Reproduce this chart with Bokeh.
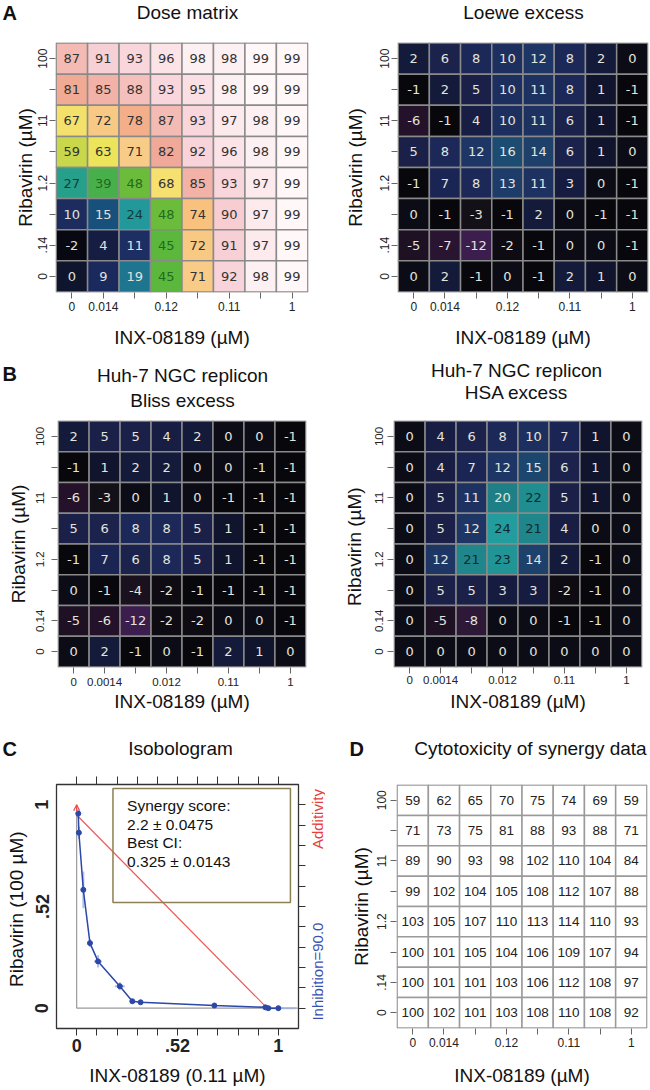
import numpy as np
from bokeh.plotting import figure
from bokeh.models import (ColumnDataSource, Range1d, FixedTicker, LinearAxis, Label,
                          BoxAnnotation, Arrow, OpenHead)
from bokeh.layouts import column, row
from bokeh.core.properties import value
from bokeh.embed import file_html
from bokeh.resources import INLINE

FONT = "Liberation Sans"

# ---------------- data ----------------
cols_A = ["0", "0.014", "", "0.12", "", "0.11", "", "1"]
rows_A = ["0", ".14", "", "1.2", "", "11", "", "100"]          # bottom -> top
cols_B = ["0", "0.0014", "", "0.012", "", "0.11", "", "1"]
rows_B = ["0", "0.14", "", "1.2", "", "11", "", "100"]

# matrices: rows listed from top (100 µM) to bottom (0 µM)
dose_matrix = [
    [87, 91, 93, 96, 98, 98, 99, 99],
    [81, 85, 88, 93, 95, 98, 99, 99],
    [67, 72, 78, 87, 93, 97, 98, 99],
    [59, 63, 71, 82, 92, 96, 98, 99],
    [27, 39, 48, 68, 85, 93, 97, 99],
    [10, 15, 24, 48, 74, 90, 97, 99],
    [-2, 4, 11, 45, 72, 91, 97, 99],
    [0, 9, 19, 45, 71, 92, 98, 99],
]
loewe_excess = [
    [2, 6, 8, 10, 12, 8, 2, 0],
    [-1, 2, 5, 10, 11, 8, 1, -1],
    [-6, -1, 4, 10, 11, 6, 1, -1],
    [5, 8, 12, 16, 14, 6, 1, 0],
    [-1, 7, 8, 13, 11, 3, 0, -1],
    [0, -1, -3, -1, 2, 0, -1, -1],
    [-5, -7, -12, -2, -1, 0, 0, -1],
    [0, 2, -1, 0, -1, 2, 1, 0],
]
bliss_excess = [
    [2, 5, 5, 4, 2, 0, 0, -1],
    [-1, 1, 2, 2, 0, 0, -1, -1],
    [-6, -3, 0, 1, 0, -1, -1, -1],
    [5, 6, 8, 8, 5, 1, -1, -1],
    [-1, 7, 6, 8, 5, 1, -1, -1],
    [0, -1, -4, -2, -1, -1, -1, -1],
    [-5, -6, -12, -2, -2, 0, 0, -1],
    [0, 2, -1, 0, -1, 2, 1, 0],
]
hsa_excess = [
    [0, 4, 6, 8, 10, 7, 1, 0],
    [0, 4, 7, 12, 15, 6, 1, 0],
    [0, 5, 11, 20, 22, 5, 1, 0],
    [0, 5, 12, 24, 21, 4, 0, 0],
    [0, 12, 21, 23, 14, 2, -1, 0],
    [0, 5, 5, 3, 3, -2, -1, 0],
    [0, -5, -8, 0, 0, -1, -1, 0],
    [0, 0, 0, 0, 0, 0, 0, 0],
]
cytotox = [
    [59, 62, 65, 70, 75, 74, 69, 59],
    [71, 73, 75, 81, 88, 93, 88, 71],
    [89, 90, 93, 98, 102, 110, 104, 84],
    [99, 102, 104, 105, 108, 112, 107, 88],
    [103, 105, 107, 110, 113, 114, 110, 93],
    [100, 101, 105, 104, 106, 109, 107, 94],
    [100, 101, 101, 103, 106, 112, 108, 97],
    [100, 102, 101, 103, 108, 110, 108, 92],
]

# isobologram (fractions of 0.11 µM INX-08189 / 100 µM ribavirin)
iso_x = [0.008, 0.011, 0.033, 0.066, 0.106, 0.214, 0.276, 0.317, 0.683, 0.936, 0.950, 1.000]
iso_y = [0.957, 0.863, 0.582, 0.320, 0.230, 0.108, 0.034, 0.029, 0.013, 0.004, 0.000, 0.000]
iso_xerr = [0.0, 0.0, 0.010, 0.010, 0.020, 0.025, 0.010, 0.0, 0.0, 0.030, 0.0, 0.085]
iso_yerr = [0.020, 0.030, 0.090, 0.020, 0.030, 0.020, 0.0, 0.0, 0.0, 0.0, 0.0, 0.0]
add_x = [0.0, 0.945]
add_y = [0.95, 0.0]
iso_ticks = [0.0, 0.1, 0.2, 0.3, 0.4, 0.5, 0.6, 0.7, 0.8, 0.9, 1.0]
iso_tick_text = {0.0: "0", 0.5: ".52", 1.0: "1"}
box_lines = ["Synergy score:", "2.2 \u00b1 0.0475", "Best CI:", "0.325 \u00b1 0.0143"]

# ---------------- colour maps ----------------
def hex2rgb(h):
    return [int(h[i:i + 2], 16) for i in (1, 3, 5)]

def make_cmap(anchors):
    vals = np.array([a for a, _ in anchors], dtype=float)
    rgb = np.array([hex2rgb(c) for _, c in anchors], dtype=float)
    def cmap(v):
        return "#%02x%02x%02x" % tuple(int(round(np.interp(v, vals, rgb[:, k]))) for k in range(3))
    return cmap

dose_cmap = make_cmap([
    (-2, "#080812"), (0, "#10152e"), (9, "#1b2a5c"), (11, "#1d2e62"), (15, "#17507a"),
    (19, "#1d7590"), (24, "#22989a"), (27, "#26a08a"), (39, "#48b04a"), (45, "#5cb83c"),
    (48, "#6cbc3c"), (59, "#c8d84a"), (63, "#ece45a"), (68, "#f5e070"), (71, "#f8cc86"),
    (74, "#f8c27e"), (78, "#f4ae8a"), (82, "#f0a898"), (85, "#f2b2a8"), (88, "#f5c0bc"),
    (90, "#f7cdd2"), (93, "#f8d6dc"), (96, "#fbe3e8"), (98, "#fdf0f2"), (99, "#fff7f8"),
])
excess_cmap = make_cmap([
    (-12, "#3c1e4e"), (-8, "#2e1838"), (-6, "#24122a"), (-3, "#141018"), (-1, "#08080c"),
    (0, "#0b0c16"), (1, "#10142c"), (2, "#141a3a"), (5, "#1a2048"), (8, "#1c2858"),
    (12, "#1e3666"), (16, "#1d4c72"), (20, "#1e8086"), (24, "#229c9c"),
])

def dose_text(v):
    if v < 20:
        return "#e2e2dc"
    if v < 30:
        return "#123c3c"
    if v <= 50:
        return "#1f6b1f"
    return "#333333"

def excess_text(v):
    return "#0f2a2e" if v >= 21 else "#e4e4dc"

# ---------------- helpers ----------------
def strip(width, height, texts):
    """A text band: its frame fills the canvas and its ranges are pixel units."""
    p = figure(width=width, height=height, x_range=Range1d(0, width),
               y_range=Range1d(height, 0), min_border=0, x_axis_location=None,
               y_axis_location=None, output_backend="svg", toolbar_location=None)
    p.grid.visible = False
    p.outline_line_color = None
    for x, y, t, size, bold, align in texts:
        p.add_layout(Label(x=x, y=y, text=t, text_font=FONT, text_font_size=size,
                           text_font_style="bold" if bold else "normal", text_align=align,
                           text_baseline="middle", text_color="#111111"))
    return p

def style_axis(ax, label, tick_font, stand, lab_stand, tick_out=6, tick_bold=False):
    ax.axis_label = label
    ax.axis_label_text_font = FONT
    ax.axis_label_text_font_size = "19px"
    ax.axis_label_text_font_style = "normal"
    ax.axis_label_text_color = "#111111"
    ax.axis_label_standoff = lab_stand
    ax.major_label_text_font = FONT
    ax.major_label_text_font_size = tick_font
    ax.major_label_text_font_style = "bold" if tick_bold else "normal"
    ax.major_label_text_color = "#222222"
    ax.major_label_standoff = stand
    ax.major_tick_out = tick_out
    ax.major_tick_in = 0
    ax.major_tick_line_color = "#666666"
    ax.minor_tick_line_color = None
    ax.axis_line_color = None

def heatmap(matrix, xlabels, ylabels, width, height, ml, mr, mt, mb, fill_fn, text_fn,
            line_color, num_font, num_size, tick_font, xs_, xls_, ys_, yls_, ylab):
    p = figure(width=width, height=height, x_range=Range1d(-0.52, 7.52),
               y_range=Range1d(-0.52, 7.52), min_border_left=ml, min_border_right=mr,
               min_border_top=mt, min_border_bottom=mb, output_backend="svg",
               toolbar_location=None)
    xs, ys, fills, tcols, txt = [], [], [], [], []
    n = len(matrix)
    for r, rv in enumerate(matrix):
        for c, v in enumerate(rv):
            xs.append(c)
            ys.append(n - 1 - r)
            fills.append(fill_fn(v))
            tcols.append(text_fn(v))
            txt.append(str(v))
    src = ColumnDataSource(dict(x=xs, y=ys, fill=fills, tcol=tcols, txt=txt))
    p.rect(x="x", y="y", width=1, height=1, fill_color="fill", line_color=line_color,
           line_width=1.5, source=src)
    p.text(x="x", y="y", text="txt", text_color="tcol", text_align="center",
           text_baseline="middle", text_font=value(num_font),
           text_font_size=value(num_size), source=src)
    p.xgrid.visible = False
    p.ygrid.visible = False
    p.outline_line_color = None
    p.xaxis.ticker = FixedTicker(ticks=list(range(len(xlabels))))
    p.xaxis.major_label_overrides = {i: s for i, s in enumerate(xlabels)}
    p.yaxis.ticker = FixedTicker(ticks=list(range(len(ylabels))))
    p.yaxis.major_label_overrides = {i: s for i, s in enumerate(ylabels)}
    p.yaxis.major_label_orientation = "vertical"
    style_axis(p.xaxis[0], "INX-08189 (\u00b5M)", tick_font, xs_, xls_)
    style_axis(p.yaxis[0], ylab, tick_font, ys_, yls_)
    return p

# ---------------- Row A ----------------
stripA = strip(650, 30, [
    (2, 12, "A", "20px", True, "left"),
    (187, 12, "Dose matrix", "19px", False, "center"),
    (523, 12, "Loewe excess", "19px", False, "center"),
])
pA1 = heatmap(dose_matrix, cols_A, rows_A, 325, 320, 55, 17, 12, 58, dose_cmap, dose_text,
              "#8a8a8a", "DejaVu Sans", "13px", "12px", 3, 13, 2, 0, "Ribavirin (\u00b5M)")
pA2 = heatmap(loewe_excess, cols_A, rows_A, 325, 320, 72, 2, 12, 58, excess_cmap, excess_text,
              "#8a8a8a", "DejaVu Sans", "13px", "12px", 3, 13, 2, 12, "Ribavirin (\u00b5M)")

# ---------------- Row B ----------------
stripB = strip(650, 64, [
    (2, 23, "B", "20px", True, "left"),
    (182, 25, "Huh-7 NGC replicon", "19px", False, "center"),
    (182, 50, "Bliss excess", "19px", False, "center"),
    (516, 20, "Huh-7 NGC replicon", "19px", False, "center"),
    (516, 42, "HSA excess", "19px", False, "center"),
])
pB1 = heatmap(bliss_excess, cols_B, rows_B, 325, 300, 57, 19, 4, 46, excess_cmap, excess_text,
              "#8a8a8a", "DejaVu Sans", "13px", "11.5px", 4, 2, 7, 5, "Ribavirin (\u00b5M)")
pB2 = heatmap(hsa_excess, cols_B, rows_B, 325, 300, 68, 8, 6, 46, excess_cmap, excess_text,
              "#8a8a8a", "DejaVu Sans", "13px", "11.5px", 2, 4, 4, 8, "Ribavirin  (\u00b5M)")

# ---------------- Row C ----------------
stripC = strip(650, 56, [
    (2, 34, "C", "20px", True, "left"),
    (180, 34, "Isobologram", "19px", False, "center"),
    (349, 34, "D", "20px", True, "left"),
    (530, 34, "Cytotoxicity of synergy data", "19px", False, "center"),
])

pC = figure(width=308, height=320, x_range=Range1d(-0.1, 1.1), y_range=Range1d(-0.1, 1.1),
            min_border_left=56, min_border_right=10, min_border_top=14, min_border_bottom=62,
            output_backend="svg", toolbar_location=None)
pC.xgrid.visible = False
pC.ygrid.visible = False
pC.outline_line_color = "#333333"
pC.outline_line_width = 1.3

pC.segment(x0=[0.0], y0=[0.0], x1=[0.0], y1=[1.0], line_color="#9a9a9a", line_width=1.2)
pC.segment(x0=[0.0], y0=[0.0], x1=[1.1], y1=[0.0], line_color="#9a9a9a", line_width=1.2)

pC.line(add_x, add_y, line_color="#ee5a5a", line_width=1.2)
pC.add_layout(Arrow(end=OpenHead(size=6, line_color="#ee4a4a", line_width=1.2),
                    x_start=0.0, y_start=0.965, x_end=0.0, y_end=1.0,
                    line_color="#ee4a4a", line_width=1.2))

ix, iy = np.array(iso_x), np.array(iso_y)
ixe, iye = np.array(iso_xerr), np.array(iso_yerr)
mx, my = ixe > 0, iye > 0
pC.segment(x0=ix[mx] - ixe[mx], x1=ix[mx] + ixe[mx], y0=iy[mx], y1=iy[mx],
           line_color="#9fb0e4", line_width=2, line_alpha=0.8)
pC.segment(x0=ix[my], x1=ix[my], y0=iy[my] - iye[my], y1=iy[my] + iye[my],
           line_color="#9fb0e4", line_width=2, line_alpha=0.8)
pC.line(iso_x, iso_y, line_color="#2b47a8", line_width=1.5)
pC.scatter(iso_x, iso_y, size=5, fill_color="#2b47a8", line_color="#2b47a8")

pC.add_layout(BoxAnnotation(left=0.18, right=1.06, bottom=0.52, top=1.08, fill_color=None,
                            fill_alpha=0, line_color="#8c7f50", line_alpha=1, line_width=1.5))
for k, t in enumerate(box_lines):
    pC.add_layout(Label(x=0.25, y=0.995 - 0.091 * k, text=t, text_font=FONT,
                        text_font_size="15.5px", text_align="left", text_baseline="middle",
                        text_color="#111111"))

style_axis(pC.xaxis[0], "INX-08189 (0.11 \u00b5M)", "18px", 3, 10, tick_out=7, tick_bold=True)
pC.xaxis.ticker = FixedTicker(ticks=iso_ticks)
pC.xaxis.major_label_overrides = {t: iso_tick_text.get(t, "") for t in iso_ticks}
pC.xaxis.major_tick_line_color = "#333333"
style_axis(pC.yaxis[0], "Ribavirin  (100 \u00b5M)", "18px", 8, 6, tick_out=0, tick_bold=True)
pC.yaxis.ticker = FixedTicker(ticks=[0.0, 0.5, 1.0])
pC.yaxis.major_label_overrides = {t: iso_tick_text[t] for t in [0.0, 0.5, 1.0]}
pC.yaxis.major_label_orientation = "vertical"

for side, out in (("above", 8), ("right", 7)):
    ax = LinearAxis(ticker=FixedTicker(ticks=iso_ticks), major_label_text_font_size="0px",
                    major_label_standoff=0, major_tick_out=out, major_tick_in=0,
                    major_tick_line_color="#333333", minor_tick_line_color=None,
                    axis_line_color=None)
    pC.add_layout(ax, side)

# narrow band right of the isobologram, sharing its y scale, for the curve labels
pSide = figure(width=17, height=320, x_range=Range1d(0, 1), y_range=pC.y_range,
               min_border_left=0, min_border_right=0, min_border_top=14, min_border_bottom=62,
               x_axis_location=None, y_axis_location=None, output_backend="svg",
               toolbar_location=None)
pSide.grid.visible = False
pSide.outline_line_color = None
pSide.add_layout(Label(x=0.5, y=0.93, text="Additivity", text_font=FONT, text_font_size="15px",
                       text_align="center", text_baseline="middle", text_color="#e8403a",
                       angle=np.pi / 2))
pSide.add_layout(Label(x=0.5, y=0.18, text="Inhibition=90.0", text_font=FONT,
                       text_font_size="15px", text_align="center", text_baseline="middle",
                       text_color="#3a50b0", angle=np.pi / 2))

pD = heatmap(cytotox, cols_A, rows_A, 325, 320, 71, 3, 8, 59, lambda v: "#ffffff",
             lambda v: "#222222", "#9a9a9a", FONT, "13.5px", "12px", 3, 15, 4, 3,
             "Ribavirin (\u00b5M)")

layout = column(stripA, row(pA1, pA2), stripB, row(pB1, pB2), stripC, row(pC, pSide, pD))
open("out.html", "w").write(file_html(layout, INLINE))
